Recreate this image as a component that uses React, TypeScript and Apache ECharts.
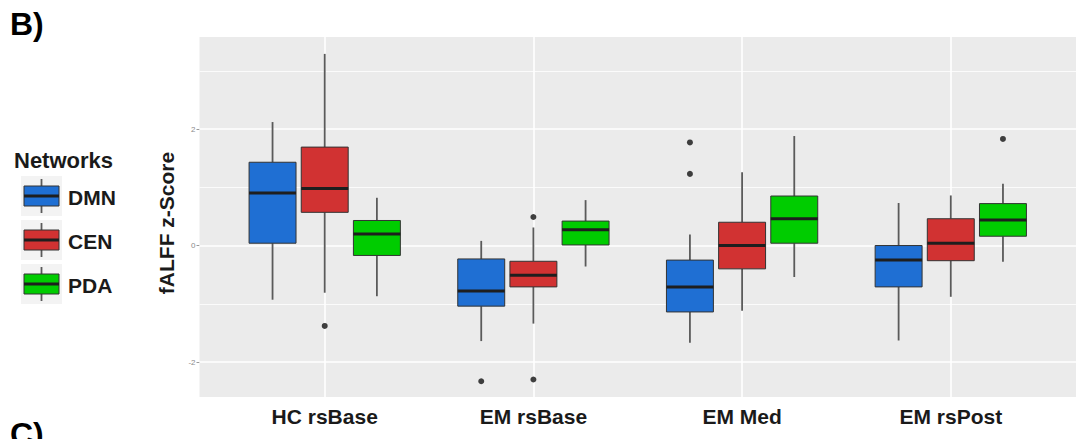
import React, { useEffect, useRef } from "react";
import * as echarts from "echarts";

// Groups on the x axis
const categories = ["HC rsBase", "EM rsBase", "EM Med", "EM rsPost"];
const networks = ["DMN", "CEN", "PDA"];
const networkColors = ["#1f6fd3", "#d13232", "#00cc00"];

// Box statistics per group: [lower whisker, Q1, median, Q3, upper whisker]
const dmnStats = [
  [-0.93, 0.04, 0.9, 1.43, 2.12],
  [-1.64, -1.04, -0.78, -0.23, 0.08],
  [-1.67, -1.14, -0.71, -0.25, 0.19],
  [-1.63, -0.71, -0.25, 0.0, 0.73],
];
const cenStats = [
  [-0.81, 0.57, 0.98, 1.69, 3.29],
  [-1.34, -0.71, -0.51, -0.27, 0.31],
  [-1.12, -0.4, 0.0, 0.4, 1.26],
  [-0.88, -0.26, 0.04, 0.46, 0.86],
];
const pdaStats = [
  [-0.87, -0.17, 0.2, 0.43, 0.82],
  [-0.36, 0.01, 0.27, 0.42, 0.78],
  [-0.54, 0.04, 0.46, 0.85, 1.88],
  [-0.28, 0.16, 0.44, 0.72, 1.06],
];

// Outlying points: [group, value]
const dmnOutliers: [string, number][] = [
  ["EM rsBase", -2.33],
  ["EM Med", 1.77],
  ["EM Med", 1.23],
];
const cenOutliers: [string, number][] = [
  ["HC rsBase", -1.38],
  ["EM rsBase", 0.49],
  ["EM rsBase", -2.3],
];
const pdaOutliers: [string, number][] = [["EM rsPost", 1.83]];

// Axis ticks
const yMajorTicks = [-2, 0, 2];
const yMinorTicks = [-1, 1, 3];
const xTicks = [1, 2, 3, 4];

const FONT = "'Liberation Sans', Arial, sans-serif";
const dodge = [-0.25, 0, 0.25];
const boxWidth = 0.225;

export default function App() {
  const ref = useRef<HTMLDivElement>(null);

  useEffect(() => {
    if (!ref.current) return;
    const chart = echarts.init(ref.current, null, { renderer: "svg" });

    const allStats = [dmnStats, cenStats, pdaStats];
    const allOutliers = [dmnOutliers, cenOutliers, pdaOutliers];

    const boxSeries = networks.map((name, si) => ({
      type: "custom",
      name,
      z: 10,
      xAxisIndex: 0,
      yAxisIndex: 0,
      encode: { x: 0, y: [1, 5] },
      data: allStats[si].map((s, i) => [i + 1, ...s]),
      renderItem: (_params: any, api: any) => {
        const xc = api.value(0) + dodge[si];
        const lo = api.coord([xc, api.value(1)]);
        const q1 = api.coord([xc, api.value(2)]);
        const md = api.coord([xc, api.value(3)]);
        const q3 = api.coord([xc, api.value(4)]);
        const hi = api.coord([xc, api.value(5)]);
        const hw = api.size([boxWidth, 0])[0] / 2;
        const whisker = { stroke: "#5a5a5a", lineWidth: 1.8 };
        return {
          type: "group",
          children: [
            { type: "line", shape: { x1: hi[0], y1: hi[1], x2: q3[0], y2: q3[1] }, style: whisker },
            { type: "line", shape: { x1: q1[0], y1: q1[1], x2: lo[0], y2: lo[1] }, style: whisker },
            {
              type: "rect",
              shape: { x: q3[0] - hw, y: q3[1], width: hw * 2, height: q1[1] - q3[1] },
              style: { fill: networkColors[si], stroke: "#333333", lineWidth: 1 },
            },
            {
              type: "line",
              shape: { x1: md[0] - hw, y1: md[1], x2: md[0] + hw, y2: md[1] },
              style: { stroke: "#1e1e1e", lineWidth: 3 },
            },
          ],
        };
      },
    }));

    const outlierSeries = networks.map((name, si) => ({
      type: "scatter",
      name: name + " outliers",
      z: 11,
      symbol: "circle",
      symbolSize: 6,
      itemStyle: { color: "#111111" },
      data: allOutliers[si].map(([g, v]) => [categories.indexOf(g) + 1 + dodge[si], v]),
    }));

    const gridLineSeries = {
      type: "line",
      name: "grid",
      z: 1,
      data: [],
      silent: true,
      markLine: {
        silent: true,
        z: 1,
        symbol: ["none", "none"],
        label: { show: false },
        animation: false,
        data: [
          ...yMinorTicks.map((v) => ({ yAxis: v, lineStyle: { color: "#ffffff", width: 0.8, type: "solid" } })),
          ...yMajorTicks.map((v) => ({ yAxis: v, lineStyle: { color: "#ffffff", width: 1.6, type: "solid" } })),
          ...xTicks.map((v) => ({ xAxis: v, lineStyle: { color: "#ffffff", width: 1.6, type: "solid" } })),
        ],
      },
    };

    const legendGraphics: any[] = [];
    networks.forEach((name, i) => {
      const cy = 196 + 44 * i;
      legendGraphics.push(
        { type: "rect", shape: { x: 21, y: cy - 20, width: 41, height: 40 }, style: { fill: "#f3f3f3" } },
        { type: "line", shape: { x1: 41.5, y1: cy - 17, x2: 41.5, y2: cy + 17 }, style: { stroke: "#5a5a5a", lineWidth: 1.8 } },
        {
          type: "rect",
          shape: { x: 24, y: cy - 10, width: 35, height: 20 },
          style: { fill: networkColors[i], stroke: "#333333", lineWidth: 1 },
        },
        { type: "line", shape: { x1: 24, y1: cy, x2: 59, y2: cy }, style: { stroke: "#1e1e1e", lineWidth: 3 } },
        {
          type: "text",
          x: 68,
          y: cy + 1,
          style: { text: name, font: `bold 21px ${FONT}`, fill: "#1a1a1a", textVerticalAlign: "middle" },
        }
      );
    });

    chart.setOption({
      animation: false,
      grid: {
        left: 199.5,
        top: 37,
        width: 880,
        height: 360,
        show: true,
        backgroundColor: "#ebebeb",
        borderWidth: 0,
        containLabel: false,
      },
      xAxis: {
        type: "value",
        min: 0.4,
        max: 4.6,
        axisLine: { show: false },
        splitLine: { show: false },
        axisTick: { show: true, customValues: xTicks, length: 3, lineStyle: { color: "#8a8a8a" } },
        axisLabel: {
          customValues: xTicks,
          formatter: (v: number) => categories[Math.round(v) - 1] ?? "",
          fontFamily: FONT,
          fontSize: 21,
          fontWeight: "bold",
          color: "#1a1a1a",
          margin: 9,
        },
      },
      yAxis: {
        type: "value",
        min: -2.6,
        max: 3.58,
        axisLine: { show: false },
        splitLine: { show: false },
        axisTick: { show: true, customValues: yMajorTicks, length: 3, lineStyle: { color: "#9a9a9a" } },
        axisLabel: {
          customValues: yMajorTicks,
          fontFamily: FONT,
          fontSize: 8,
          color: "#8a8a8a",
          margin: 4,
        },
      },
      graphic: [
        {
          type: "text",
          x: 10,
          y: 24,
          style: { text: "B)", font: `bold 32px ${FONT}`, fill: "#000000", textVerticalAlign: "middle" },
        },
        {
          type: "text",
          x: 10,
          y: 434,
          style: { text: "C)", font: `bold 32px ${FONT}`, fill: "#000000", textVerticalAlign: "middle" },
        },
        {
          type: "text",
          x: 14,
          y: 160,
          style: { text: "Networks", font: `bold 22px ${FONT}`, fill: "#1a1a1a", textVerticalAlign: "middle" },
        },
        {
          type: "text",
          x: 166,
          y: 223,
          rotation: Math.PI / 2,
          style: {
            text: "fALFF z-Score",
            font: `bold 21px ${FONT}`,
            fill: "#1a1a1a",
            textAlign: "center",
            textVerticalAlign: "middle",
          },
        },
        ...legendGraphics,
      ],
      series: [gridLineSeries, ...boxSeries, ...outlierSeries],
    });

    return () => chart.dispose();
  }, []);

  return (
    <div
      ref={ref}
      style={{ position: "fixed", left: 0, top: 0, width: 1076, height: 439, background: "#ffffff" }}
    />
  );
}
